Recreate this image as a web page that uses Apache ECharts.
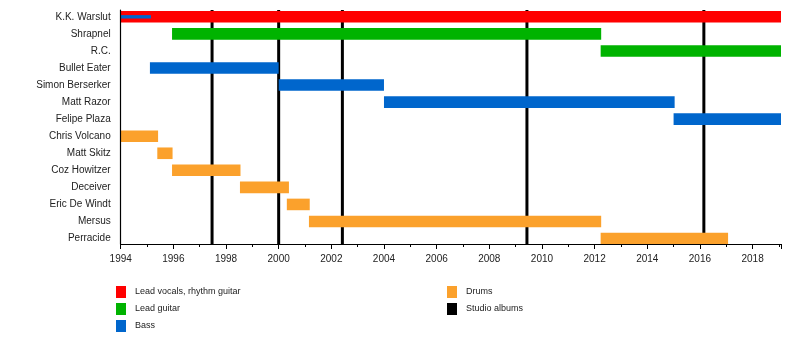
<!DOCTYPE html>
<html>
<head>
<meta charset="utf-8">
<script src="https://cdn.jsdelivr.net/npm/echarts@6/dist/echarts.min.js"></script>
<style>html,body{margin:0;padding:0;background:#fff}#c{width:800px;height:364px}</style>
</head>
<body>
<div id="c"></div>
<script>
// ---- data ----
const members = ['K.K. Warslut','Shrapnel','R.C.','Bullet Eater','Simon Berserker','Matt Razor','Felipe Plaza','Chris Volcano','Matt Skitz','Coz Howitzer','Deceiver','Eric De Windt','Mersus','Perracide'];
// [start, end, rowIndex]
const vocals = [[1994, 2019.08, 0]];
const leadGuitar = [[1995.95, 2012.25, 1], [2012.23, 2019.08, 2]];
const bass = [[1995.11, 2000.0, 3], [2000.0, 2004.0, 4], [2004.0, 2015.04, 5], [2015.0, 2019.08, 6]];
const bassSecondary = [[1994, 1995.15, 0]];
const drums = [[1994, 1995.42, 7], [1995.39, 1995.97, 8], [1995.95, 1998.55, 9], [1998.53, 2000.39, 10], [2000.31, 2001.18, 11], [2001.15, 2012.25, 12], [2012.23, 2017.07, 13]];
const albums = [1997.47, 2000.0, 2002.42, 2009.43, 2016.15];
const legendCol1 = ['Lead vocals, rhythm guitar', 'Lead guitar', 'Bass'];
const legendCol2 = ['Drums', 'Studio albums'];

const FONT = 'Liberation Sans, Arial, sans-serif';
const COLORS = { vocals: '#ff0000', lead: '#00b300', bass: '#0066cc', drums: '#fba12c', albums: '#000000' };

function barRenderer(ratio, color) {
  return function (params, api) {
    const s = api.coord([api.value(0), api.value(2)]);
    const e = api.coord([api.value(1), api.value(2)]);
    const h = api.size([0, 1])[1] * ratio;
    return { type: 'rect', shape: { x: s[0], y: s[1] - h / 2, width: e[0] - s[0], height: h }, style: { fill: color } };
  };
}
function barSeries(name, data, ratio, color, z) {
  return {
    type: 'custom', name: name, xAxisIndex: 0, yAxisIndex: 0,
    data: data, encode: { x: [0, 1], y: 2 },
    itemStyle: { color: color }, z: z,
    renderItem: barRenderer(ratio, color)
  };
}

const chart = echarts.init(document.getElementById('c'), null, { renderer: 'canvas' });
chart.setOption({
  animation: false,
  backgroundColor: '#fff',
  textStyle: { fontFamily: FONT },
  grid: [
    { left: 120.7, right: 19, top: 10, height: 234 },
    { left: 120.7, right: 19, top: 8.3, height: 238.7 }
  ],
  xAxis: [
    {
      gridIndex: 0, type: 'value', min: 1994, max: 2019.08, interval: 2,
      axisLine: { show: true, onZero: false, lineStyle: { color: '#000', width: 1.2 } },
      axisTick: { show: true, length: 5, lineStyle: { color: '#000' } },
      minorTick: { show: true, splitNumber: 2, length: 3, lineStyle: { color: '#000' } },
      splitLine: { show: false },
      axisLabel: {
        fontSize: 10, color: '#222', margin: 10, fontFamily: FONT, showMaxLabel: false,
        formatter: function (v) { return (Math.abs(v - Math.round(v)) < 1e-6 && Math.round(v) % 2 === 0) ? String(Math.round(v)) : ''; }
      },
      z: 5
    },
    { gridIndex: 1, type: 'value', min: 1994, max: 2019.08, show: false }
  ],
  yAxis: [
    {
      gridIndex: 0, type: 'value', inverse: true, min: -0.40, max: 13.32,
      axisLine: { show: true, onZero: false, lineStyle: { color: '#000', width: 1.2 } },
      axisTick: { show: false }, axisLabel: { show: false }, splitLine: { show: false },
      z: 5
    },
    {
      gridIndex: 1, type: 'category', inverse: true, data: members,
      axisLine: { show: false }, axisTick: { show: false }, splitLine: { show: false },
      axisLabel: { fontSize: 10, color: '#222', margin: 10, fontFamily: FONT }
    }
  ],
  legend: [
    {
      data: legendCol1.map(n => ({ name: n, icon: 'rect' })),
      orient: 'vertical', left: 116, top: 286, padding: 0,
      itemWidth: 10, itemHeight: 12, itemGap: 5, selectedMode: false,
      textStyle: { fontSize: 9, color: '#222', fontFamily: FONT, padding: [0, 0, 0, 4] }
    },
    {
      data: legendCol2.map(n => ({ name: n, icon: 'rect' })),
      orient: 'vertical', left: 447, top: 286, padding: 0,
      itemWidth: 10, itemHeight: 12, itemGap: 5, selectedMode: false,
      textStyle: { fontSize: 9, color: '#222', fontFamily: FONT, padding: [0, 0, 0, 4] }
    }
  ],
  series: [
    {
      type: 'custom', name: 'Studio albums', xAxisIndex: 0, yAxisIndex: 0,
      data: albums.map(y => [y, 0]), encode: { x: 0, y: 1 },
      itemStyle: { color: COLORS.albums }, z: 1,
      renderItem: function (params, api) {
        const x = api.coord([api.value(0), 0])[0];
        const cs = params.coordSys;
        return { type: 'line', shape: { x1: x, y1: cs.y, x2: x, y2: cs.y + cs.height }, style: { stroke: COLORS.albums, lineWidth: 3 } };
      }
    },
    barSeries('Lead vocals, rhythm guitar', vocals, 0.68, COLORS.vocals, 2),
    barSeries('Lead guitar', leadGuitar, 0.68, COLORS.lead, 2),
    barSeries('Bass', bass, 0.68, COLORS.bass, 2),
    barSeries('Drums', drums, 0.68, COLORS.drums, 2),
    barSeries('Bass', bassSecondary, 0.2, COLORS.bass, 3)
  ]
});
</script>
</body>
</html>
